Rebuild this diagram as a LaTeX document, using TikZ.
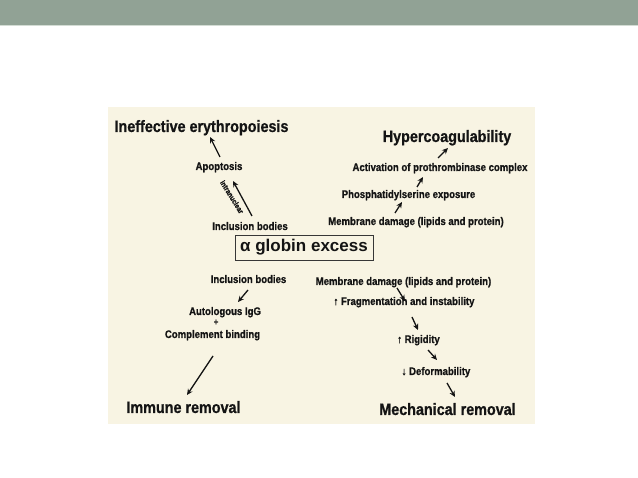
\documentclass[tikz,border=0pt]{standalone}
\usepackage{fontspec}
\setmainfont{Liberation Sans}
\newfontfamily\condfont{Liberation Sans}[FakeStretch=0.87, FakeBold=0.8]
\usetikzlibrary{arrows.meta,calc}
\definecolor{band}{HTML}{91A295}
\definecolor{bandline}{HTML}{D3DCD4}
\definecolor{panel}{HTML}{F8F4E3}
\definecolor{ink}{HTML}{141414}
\begin{document}
\begin{tikzpicture}[x=1pt,y=-1pt,
  lbl/.style={font=\condfont\bfseries\fontsize{11}{12}\selectfont, text=ink, inner sep=0pt, anchor=base},
  head/.style={font=\condfont\bfseries\fontsize{16.5}{18}\selectfont, text=ink, inner sep=0pt, anchor=base},
  tiny/.style={font=\condfont\bfseries\fontsize{7.5}{9}\selectfont, text=ink, inner sep=0pt},
  globbox/.style={draw=ink!85, line width=0.9pt, fill=panel, minimum width=138pt, minimum height=25pt, inner sep=0pt,
    font=\bfseries\fontsize{17}{19}\selectfont, text=ink},
  arr/.style={draw=ink, line width=1.3pt, -{Stealth[length=6pt,width=5.5pt]}}
]
\useasboundingbox (0,0) rectangle (638,478);
\fill[white] (0,0) rectangle (638,478);
\fill[band] (0,0) rectangle (638,25);
\fill[bandline] (0,25) rectangle (638,26.5);
\fill[panel] (107.5,107.5) rectangle (535,424);

% upper left
\node[head] (ineff) at (201.5,132) {Ineffective erythropoiesis};
\node[lbl] (apop) at (219,170) {Apoptosis};
\node[lbl] (incup) at (250,230) {Inclusion bodies};
\node[tiny, rotate=-58] (intra) at (232,197) {intranuclear};

% upper right
\node[head] (hyp) at (447,142) {Hypercoagulability};
\node[lbl] (act) at (440,171) {Activation of prothrombinase complex};
\node[lbl] (phos) at (408.5,198) {Phosphatidylserine exposure};
\node[lbl] (memup) at (416,225) {Membrane damage (lipids and protein)};

% centre
\node[globbox] (glob) at (304,247.5) {α globin excess};

% lower left
\node[lbl] (inclow) at (248.5,283) {Inclusion bodies};
\node[lbl] (auto) at (225,315) {Autologous IgG};
\node[lbl, font=\condfont\bfseries\fontsize{9}{9}\selectfont] (plus) at (216,325) {+};
\node[lbl] (comp) at (212.5,338) {Complement binding};
\node[head] (immune) at (183.5,413) {Immune removal};

% lower right
\node[lbl] (memlow) at (403.5,285) {Membrane damage (lipids and protein)};
\node[lbl] (frag) at (404,305) {↑ Fragmentation and instability};
\node[lbl] (rig) at (418.5,343) {↑ Rigidity};
\node[lbl] (deform) at (436,375) {↓ Deformability};
\node[head] (mech) at (447.5,415) {Mechanical removal};

% arrows
\draw[arr] ([shift={(1,-13)}]apop.base) -- ([shift={(8.5,5)}]ineff.base);
\draw[arr] ([shift={(2,-14)}]incup.base) -- ([shift={(14,11)}]apop.base);
\draw[arr] ([shift={(-2,-13)}]act.base) -- ([shift={(1,6)}]hyp.base);
\draw[arr] ([shift={(8.5,-11)}]phos.base) -- ([shift={(-17,6)}]act.base);
\draw[arr] ([shift={(-21,-12)}]memup.base) -- ([shift={(-6.5,4)}]phos.base);
\draw[arr] ([shift={(-0.5,7)}]inclow.base) -- ([shift={(13,-13)}]auto.base);
\draw[arr] ([shift={(0.5,18)}]comp.base) -- ([shift={(3.5,-18)}]immune.base);
\draw[arr] ([shift={(-6.5,3)}]memlow.base) -- ([shift={(1,-4)}]frag.base);
\draw[arr] ([shift={(8,12)}]frag.base) -- ([shift={(-0.5,-13)}]rig.base);
\draw[arr] ([shift={(9.5,7)}]rig.base) -- ([shift={(1,-15)}]deform.base);
\draw[arr] ([shift={(11,8)}]deform.base) -- ([shift={(7.5,-18)}]mech.base);
\end{tikzpicture}
\end{document}
